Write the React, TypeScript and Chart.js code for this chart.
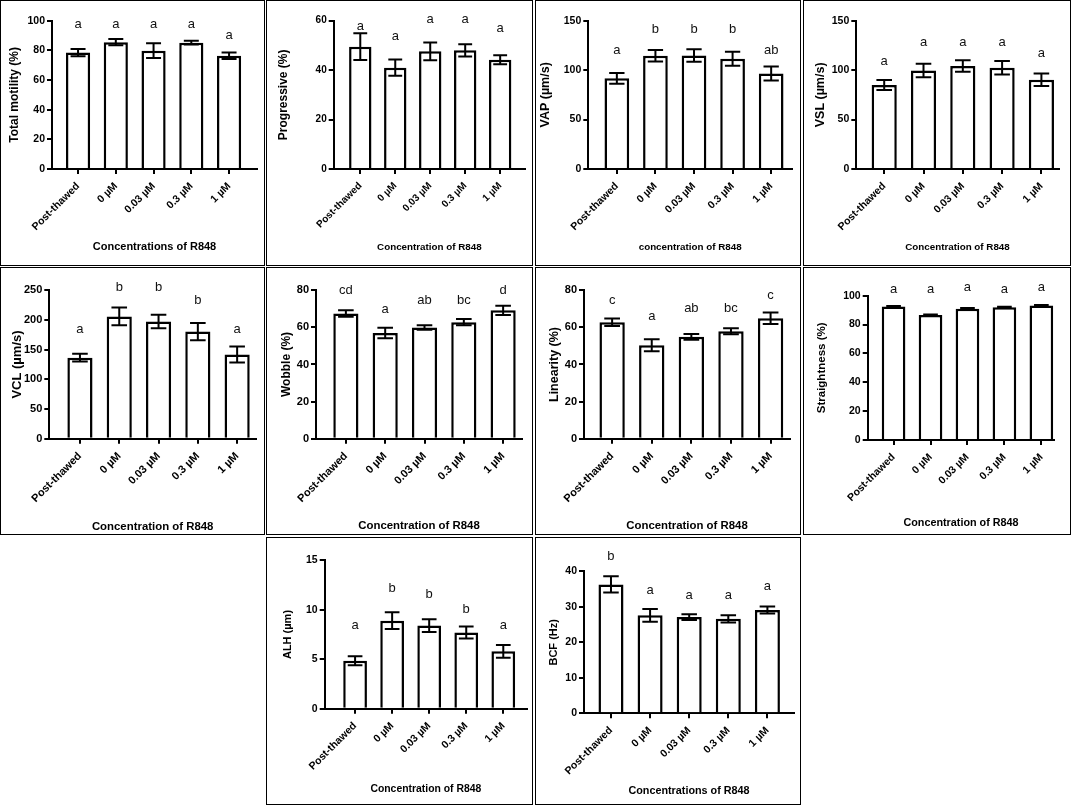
import React, { useEffect, useRef } from "react";
import { Chart, registerables } from "chart.js";

Chart.register(...registerables);
Chart.defaults.font.family = '"Liberation Sans", Arial, Helvetica, sans-serif';

// ---------- data ----------
const categories = ["Post-thawed", "0 µM", "0.03 µM", "0.3 µM", "1 µM"];

const motilityMean = [78.5, 85.5, 79.8, 85.2, 76.3];
const motilitySem = [2.5, 2.1, 5.0, 1.2, 2.2];
const motilityLetters = ["a", "a", "a", "a", "a"];
const motilityLetterY = [97.3, 97.3, 97.3, 97.3, 90];

const progressiveMean = [49.5, 41.0, 47.6, 48.0, 44.2];
const progressiveSem = [5.4, 3.3, 3.6, 2.5, 1.8];
const progressiveLetters = ["a", "a", "a", "a", "a"];
const progressiveLetterY = [57.8, 53.5, 60.7, 60.7, 56.9];

const vapMean = [91.7, 114.6, 114.8, 111.5, 96.6];
const vapSem = [5.5, 5.8, 6.3, 7.0, 7.0];
const vapLetters = ["a", "b", "b", "b", "ab"];
const vapLetterY = [120.3, 141.3, 141.3, 141.3, 120.3];

const vslMean = [85.0, 99.6, 104.2, 102.4, 90.2];
const vslSem = [5.0, 6.8, 5.8, 6.8, 6.3];
const vslLetters = ["a", "a", "a", "a", "a"];
const vslLetterY = [108.5, 127.7, 127.7, 127.7, 117];

const vclMean = [136.5, 206.0, 197.5, 180.5, 142.0];
const vclSem = [6.5, 15.0, 11.5, 14.5, 13.5];
const vclLetters = ["a", "b", "b", "b", "a"];
const vclLetterY = [183.7, 255, 255, 232.6, 183.7];

const wobbleMean = [67.5, 57.0, 60.0, 62.8, 69.2];
const wobbleSem = [1.8, 2.8, 1.2, 1.7, 2.5];
const wobbleLetters = ["cd", "a", "ab", "bc", "d"];
const wobbleLetterY = [80.2, 69.8, 74.4, 74.4, 80.2];

const linearityMean = [62.8, 50.4, 54.9, 57.9, 64.9];
const linearitySem = [2.0, 3.2, 1.5, 1.6, 3.1];
const linearityLetters = ["c", "a", "ab", "bc", "c"];
const linearityLetterY = [74.8, 66, 70.1, 70.1, 77];

const straightnessMean = [92.5, 86.6, 91.0, 92.0, 93.2];
const straightnessSem = [0.4, 0.3, 0.4, 0.3, 0.3];
const straightnessLetters = ["a", "a", "a", "a", "a"];
const straightnessLetterY = [104.3, 104.3, 105.6, 104.3, 105.6];

const alhMean = [4.85, 8.9, 8.4, 7.7, 5.8];
const alhSem = [0.45, 0.85, 0.65, 0.6, 0.65];
const alhLetters = ["a", "b", "b", "b", "a"];
const alhLetterY = [8.46, 12.2, 11.6, 10.05, 8.46];

const bcfMean = [36.3, 27.6, 27.1, 26.6, 29.1];
const bcfSem = [2.3, 1.8, 0.8, 1.0, 1.0];
const bcfLetters = ["b", "a", "a", "a", "a"];
const bcfLetterY = [44.1, 34.5, 33.3, 33.3, 35.7];

// ---------- panels ----------
type Panel = {
  yTitle: string;
  xTitle: string;
  yMax: number;
  yStep: number;
  mean: number[];
  sem: number[];
  letters: string[];
  letterY: number[];
  box: { left: number; top: number; w: number; h: number };
  area: { l: number; t: number; b: number; r: number };
  xr: [number, number];
  yTitleX: number;
  xTitleY: number;
  ytFont: number;
  xtFont: number;
  tickFont: number;
};

const panels: Panel[] = [
  {
    yTitle: "Total motility (%)", xTitle: "Concentrations of R848", yMax: 100, yStep: 20,
    mean: motilityMean, sem: motilitySem, letters: motilityLetters, letterY: motilityLetterY,
    box: { left: 0, top: 0, w: 265, h: 266 }, area: { l: 52, t: 20.7, b: 169, r: 257 },
    xr: [-0.69, 4.74], yTitleX: 15, xTitleY: 246.7, ytFont: 12, xtFont: 11, tickFont: 10.5,
  },
  {
    yTitle: "Progressive (%)", xTitle: "Concentration of R848", yMax: 60, yStep: 20,
    mean: progressiveMean, sem: progressiveSem, letters: progressiveLetters, letterY: progressiveLetterY,
    box: { left: 266, top: 0, w: 267, h: 266 }, area: { l: 67.7, t: 20.7, b: 169, r: 259 },
    xr: [-0.76, 4.71], yTitleX: 17.3, xTitleY: 247.3, ytFont: 12, xtFont: 9.8, tickFont: 10,
  },
  {
    yTitle: "VAP (µm/s)", xTitle: "concentration of R848", yMax: 150, yStep: 50,
    mean: vapMean, sem: vapSem, letters: vapLetters, letterY: vapLetterY,
    box: { left: 535, top: 0, w: 266, h: 266 }, area: { l: 53.3, t: 20.7, b: 169, r: 257 },
    xr: [-0.74, 4.54], yTitleX: 11, xTitleY: 247.3, ytFont: 12.5, xtFont: 9.8, tickFont: 10.5,
  },
  {
    yTitle: "VSL (µm/s)", xTitle: "Concentration of R848", yMax: 150, yStep: 50,
    mean: vslMean, sem: vslSem, letters: vslLetters, letterY: vslLetterY,
    box: { left: 803, top: 0, w: 268, h: 266 }, area: { l: 53.3, t: 20.7, b: 169, r: 255.7 },
    xr: [-0.71, 4.44], yTitleX: 17.3, xTitleY: 247.3, ytFont: 12.5, xtFont: 9.8, tickFont: 10.5,
  },
  {
    yTitle: "VCL (µm/s)", xTitle: "Concentration of R848", yMax: 250, yStep: 50,
    mean: vclMean, sem: vclSem, letters: vclLetters, letterY: vclLetterY,
    box: { left: 0, top: 267, w: 265, h: 268 }, area: { l: 49.3, t: 23.3, b: 171.7, r: 256 },
    xr: [-0.78, 4.48], yTitleX: 17.3, xTitleY: 260.3, ytFont: 13, xtFont: 11.4, tickFont: 11,
  },
  {
    yTitle: "Wobble (%)", xTitle: "Concentration of R848", yMax: 80, yStep: 20,
    mean: wobbleMean, sem: wobbleSem, letters: wobbleLetters, letterY: wobbleLetterY,
    box: { left: 266, top: 267, w: 267, h: 268 }, area: { l: 50, t: 23.3, b: 171.7, r: 256 },
    xr: [-0.76, 4.48], yTitleX: 20.7, xTitleY: 258.7, ytFont: 12, xtFont: 11.4, tickFont: 11,
  },
  {
    yTitle: "Linearity (%)", xTitle: "Concentration of R848", yMax: 80, yStep: 20,
    mean: linearityMean, sem: linearitySem, letters: linearityLetters, letterY: linearityLetterY,
    box: { left: 535, top: 267, w: 266, h: 268 }, area: { l: 49, t: 23.3, b: 171.7, r: 255 },
    xr: [-0.71, 4.49], yTitleX: 19.7, xTitleY: 258.7, ytFont: 12.5, xtFont: 11.4, tickFont: 11,
  },
  {
    yTitle: "Straightness (%)", xTitle: "Concentration of R848", yMax: 100, yStep: 20,
    mean: straightnessMean, sem: straightnessSem, letters: straightnessLetters, letterY: straightnessLetterY,
    box: { left: 803, top: 267, w: 268, h: 268 }, area: { l: 64.7, t: 28.7, b: 173, r: 251.3 },
    xr: [-0.7, 4.35], yTitleX: 19, xTitleY: 256.3, ytFont: 11.5, xtFont: 10.8, tickFont: 10.5,
  },
  {
    yTitle: "ALH (µm)", xTitle: "Concentration of R848", yMax: 15, yStep: 5,
    mean: alhMean, sem: alhSem, letters: alhLetters, letterY: alhLetterY,
    box: { left: 266, top: 537, w: 267, h: 268 }, area: { l: 58.7, t: 23.3, b: 171.7, r: 261 },
    xr: [-0.82, 4.64], yTitleX: 21.7, xTitleY: 252, ytFont: 11, xtFont: 10.4, tickFont: 10.5,
  },
  {
    yTitle: "BCF (Hz)", xTitle: "Concentrations of R848", yMax: 40, yStep: 10,
    mean: bcfMean, sem: bcfSem, letters: bcfLetters, letterY: bcfLetterY,
    box: { left: 535, top: 537, w: 266, h: 268 }, area: { l: 49, t: 34.3, b: 176.3, r: 259 },
    xr: [-0.69, 4.68], yTitleX: 19, xTitleY: 253.7, ytFont: 11, xtFont: 10.8, tickFont: 10.5,
  },
];

const FONT = '"Liberation Sans", Arial, Helvetica, sans-serif';

function ChartPanel({ p }: { p: Panel }) {
  const ref = useRef<HTMLCanvasElement | null>(null);
  const cw = p.box.w - 2;
  const ch = p.box.h - 2;

  useEffect(() => {
    if (!ref.current) return;
    const errorBars = {
      id: "errorBars",
      afterDatasetsDraw(chart: any) {
        const ctx = chart.ctx;
        const ys = chart.scales.y;
        const meta = chart.getDatasetMeta(0);
        ctx.save();
        ctx.strokeStyle = "#000";
        ctx.lineWidth = 2;
        meta.data.forEach((el: any, i: number) => {
          const x = el.x;
          const half = el.width * 0.31;
          const yT = ys.getPixelForValue(p.mean[i] + p.sem[i]);
          const yB = ys.getPixelForValue(p.mean[i] - p.sem[i]);
          ctx.beginPath();
          ctx.moveTo(x, yT);
          ctx.lineTo(x, yB);
          ctx.moveTo(x - half, yT);
          ctx.lineTo(x + half, yT);
          ctx.moveTo(x - half, yB);
          ctx.lineTo(x + half, yB);
          ctx.stroke();
        });
        ctx.restore();
      },
    };
    const letters = {
      id: "letters",
      afterDraw(chart: any) {
        const ctx = chart.ctx;
        const xs = chart.scales.x;
        const ys = chart.scales.y;
        ctx.save();
        ctx.fillStyle = "#111";
        ctx.font = `normal 13px ${FONT}`;
        ctx.textAlign = "center";
        ctx.textBaseline = "middle";
        p.letters.forEach((t, i) => {
          ctx.fillText(t, xs.getPixelForValue(i), ys.getPixelForValue(p.letterY[i]));
        });
        ctx.restore();
      },
    };

    const yTitleLH = p.ytFont * 1.2;
    const xTitleLH = p.xtFont * 1.2;

    const chart = new Chart(ref.current, {
      type: "bar",
      data: {
        datasets: [
          {
            data: p.mean.map((v, i) => ({ x: i, y: v })),
            backgroundColor: "#ffffff",
            borderColor: "#000000",
            borderWidth: 2.5,
            barPercentage: 0.64,
            categoryPercentage: 1,
          } as any,
        ],
      },
      options: {
        responsive: false,
        animation: false,
        devicePixelRatio: 1,
        layout: {
          padding: { left: 0, top: p.area.t - 1, right: cw - (p.area.r - 1), bottom: 0 },
        },
        plugins: { legend: { display: false }, tooltip: { enabled: false } },
        scales: {
          x: {
            type: "linear",
            offset: false,
            min: p.xr[0],
            max: p.xr[1],
            bounds: "data",
            afterBuildTicks: (s: any) => {
              s.ticks = categories.map((_, i) => ({ value: i }));
            },
            afterFit: (s: any) => {
              s.height = ch - (p.area.b - 1);
            },
            ticks: {
              autoSkip: false,
              minRotation: 45,
              maxRotation: 45,
              stepSize: 1,
              padding: 6,
              color: "#000",
              font: { size: p.tickFont, weight: "bold", family: FONT },
              callback: (v: any) => categories[v as number] ?? "",
            },
            grid: {
              display: true,
              offset: false,
              drawOnChartArea: false,
              drawTicks: true,
              tickLength: 5,
              color: "#000",
              lineWidth: 2,
            },
            border: { display: true, color: "#000", width: 2 },
            title: {
              display: true,
              text: p.xTitle,
              color: "#000",
              font: { size: p.xtFont, weight: "bold", family: FONT },
              padding: { top: 0, bottom: ch - (p.xTitleY - 1) - xTitleLH / 2 },
            },
          },
          y: {
            min: 0,
            max: p.yMax,
            afterFit: (s: any) => {
              s.width = p.area.l - 1;
            },
            ticks: {
              stepSize: p.yStep,
              padding: 2,
              color: "#000",
              font: { size: p.tickFont, weight: "bold", family: FONT },
            },
            grid: {
              display: true,
              drawOnChartArea: false,
              drawTicks: true,
              tickLength: 5,
              color: "#000",
              lineWidth: 2,
            },
            border: { display: true, color: "#000", width: 2 },
            title: {
              display: true,
              text: p.yTitle,
              color: "#000",
              font: { size: p.ytFont, weight: "bold", family: FONT },
              padding: { top: p.yTitleX - 1 - yTitleLH / 2, bottom: 0 },
            },
          },
        },
      } as any,
      plugins: [errorBars, letters],
    });
    return () => chart.destroy();
  }, []);

  return (
    <div
      style={{
        position: "absolute",
        left: p.box.left,
        top: p.box.top,
        width: p.box.w,
        height: p.box.h,
        boxSizing: "border-box",
        border: "1px solid #000",
        background: "#fff",
      }}
    >
      <canvas ref={ref} width={cw} height={ch} style={{ display: "block", width: cw, height: ch }} />
    </div>
  );
}

export default function App() {
  return (
    <div
      style={{
        position: "absolute",
        left: 0,
        top: 0,
        width: 1071,
        height: 805,
        background: "#fff",
        overflow: "hidden",
      }}
    >
      {panels.map((p, i) => (
        <ChartPanel key={i} p={p} />
      ))}
    </div>
  );
}
